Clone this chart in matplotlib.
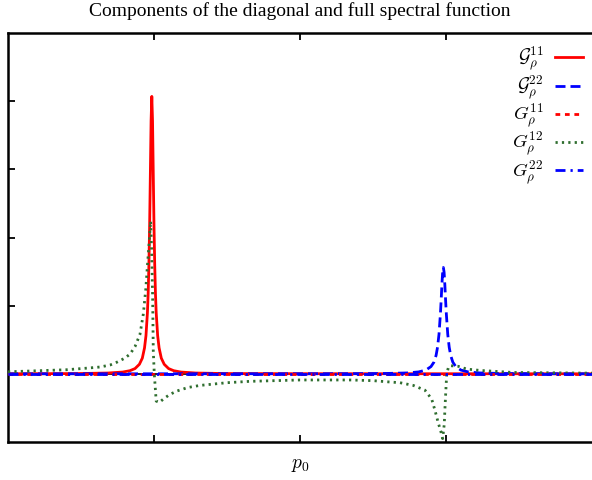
import matplotlib
matplotlib.use("Agg")
import matplotlib.pyplot as plt

plt.rcParams['mathtext.fontset'] = 'cm'

title = "Components of the diagonal and full spectral function"
xlabel = "$p_0$"
labels = [r"$\mathcal{G}_\rho^{11}$", r"$\mathcal{G}_\rho^{22}$",
          r"$G_\rho^{11}$", r"$G_\rho^{12}$", r"$G_\rho^{22}$"]

# diagonal G^11 (red solid)
x_gd11 = [-2.0, -1.515, -1.315, -1.215, -1.165, -1.13, -1.10, -1.08, -1.065, -1.055,
          -1.045, -1.04, -1.035, -1.03, -1.025, -1.02, -1.015, -1.01, -1.005, -1.0,
          -0.995, -0.99, -0.985, -0.975, -0.965, -0.95, -0.93, -0.90, -0.865, -0.815,
          -0.715, -0.515, 0.0, 2.0]
y_gd11 = [0.001, 0.004, 0.012, 0.026, 0.046, 0.077, 0.14, 0.23, 0.38, 0.56,
          0.90, 1.18, 1.59, 2.17, 2.93, 3.71, 4.07, 3.71, 2.93, 2.17,
          1.59, 1.18, 0.90, 0.56, 0.38, 0.23, 0.14, 0.077, 0.046, 0.026,
          0.012, 0.004, 0.002, 0.0005]

# diagonal G^22 (blue dashed)
x_gd22 = [-2.0, 0.0, 0.282, 0.582, 0.732, 0.812, 0.862, 0.897, 0.917, 0.932,
          0.942, 0.952, 0.962, 0.967, 0.972, 0.977, 0.982, 0.987, 0.992, 0.997,
          1.002, 1.012, 1.022, 1.032, 1.047, 1.067, 1.102, 1.152, 1.232, 1.382,
          1.682, 2.0]
y_gd22 = [0.0003, 0.0015, 0.0017, 0.005, 0.013, 0.028, 0.055, 0.106, 0.17, 0.27,
          0.39, 0.58, 0.89, 1.09, 1.31, 1.49, 1.56, 1.49, 1.31, 1.09,
          0.89, 0.58, 0.39, 0.27, 0.17, 0.106, 0.055, 0.028, 0.013, 0.005,
          0.0017, 0.001]

# full G^11 (red short dashes) and G^22 (blue dash-dot): close to zero
x_g11 = [-2.0, 0.0, 2.0]
y_g11 = [0.0, 0.0, 0.0]
x_g22 = [-2.0, 0.0, 2.0]
y_g22 = [0.0, 0.0, 0.0]

# off-diagonal G^12 (green dotted)
x_g12 = [-2.0, -1.8, -1.6, -1.45, -1.37, -1.30, -1.255, -1.20, -1.164, -1.13,
         -1.096, -1.073, -1.056, -1.046, -1.032, -1.023, -1.016, -1.009, -1.005, -0.998,
         -0.985, -0.964, -0.93, -0.89, -0.84, -0.767, -0.685, -0.5, -0.342, 0.0,
         0.342, 0.5, 0.616, 0.685, 0.776, 0.856, 0.902, 0.925, 0.947, 0.964,
         0.977, 0.988, 0.993, 1.0, 1.005, 1.016, 1.027, 1.084, 1.142, 1.233,
         1.461, 2.0]
y_g12 = [0.03, 0.045, 0.06, 0.085, 0.10, 0.13, 0.17, 0.23, 0.29, 0.40,
         0.58, 0.88, 1.25, 1.56, 1.96, 2.24, 1.80, 1.07, 0.34, 0.0,
         -0.40, -0.42, -0.36, -0.30, -0.25, -0.20, -0.17, -0.13, -0.11, -0.09,
         -0.09, -0.10, -0.12, -0.13, -0.17, -0.24, -0.37, -0.54, -0.72, -0.84,
         -0.95, -0.74, -0.50, -0.20, 0.0, 0.09, 0.12, 0.11, 0.07, 0.05,
         0.02, 0.01]

xticks = [-1, 0, 1]
yticks = [0, 1, 2, 3, 4]

fig = plt.figure(figsize=(5.92, 4.80), dpi=100)
ax = fig.add_axes([8/592, 38/480, 584/592, 409/480])

ax.axhline(0, color='black', lw=1.2, zorder=1)
green = '#2f6e2f'
ax.plot(x_gd11, y_gd11, color='#ff0000', lw=2.0, ls='-', label=labels[0], zorder=2)
ax.plot(x_gd22, y_gd22, color='#0000ff', lw=2.0, dashes=(3.6, 1.8), label=labels[1], zorder=3)
ax.plot(x_g11, y_g11, color='#ff0000', lw=2.0, dashes=(1.7, 1.7), label=labels[2], zorder=4)
ax.plot(x_g12, y_g12, color=green, lw=2.0, dashes=(0.8, 1.5), label=labels[3], zorder=5)
ax.plot(x_g22, y_g22, color='#0000ff', lw=2.0, dashes=(3.6, 1.8, 0.8, 1.8), label=labels[4], zorder=6)

ax.set_xlim(-2, 2)
ax.set_ylim(-1, 5)
ax.set_xticks(xticks)
ax.set_yticks(yticks)
ax.set_xticklabels([])
ax.set_yticklabels([])
ax.tick_params(direction='in', length=5, width=1.3, top=True, right=False)
for s in ['left', 'top', 'bottom']:
    ax.spines[s].set_linewidth(1.8)
ax.spines['right'].set_visible(False)

fig.text(300/592, 1 - 11/480, title, ha='center', va='center',
         family='Liberation Serif', fontsize=14)
fig.text(300/592, 1 - 464/480, xlabel, ha='center', va='center', fontsize=14)

ax.legend(loc='upper right', bbox_to_anchor=(575/584, 1 - 12/409), markerfirst=False,
          frameon=False, fontsize=13.5, handlelength=1.5, handletextpad=0.6,
          labelspacing=0.0, borderaxespad=0, borderpad=0)

fig.savefig('out.png', dpi=100)
